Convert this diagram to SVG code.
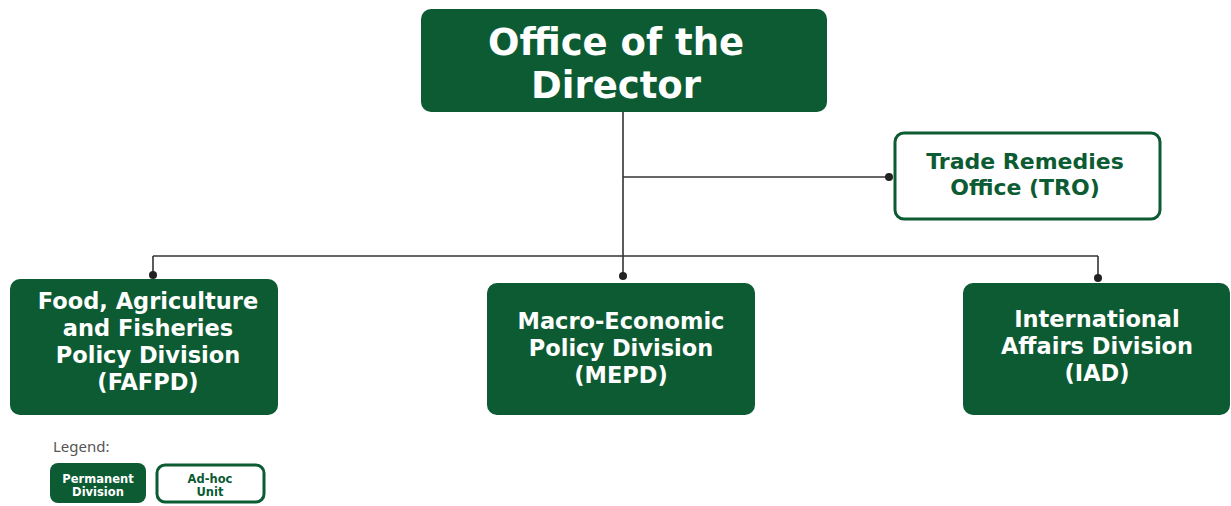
<svg xmlns="http://www.w3.org/2000/svg" width="1231" height="506" viewBox="0 0 1231 506">
<style>
.perm{fill:#0c5b33;}
.adhoc{fill:#ffffff;stroke:#0c5b33;stroke-width:3;}
.t{font-family:"DejaVu Sans","Liberation Sans",sans-serif;font-weight:bold;text-anchor:middle;}
.w{fill:#ffffff;}
.g{fill:#0c5b33;}
.conn{fill:none;stroke:#333333;stroke-width:1.6;}
.dot{fill:#222222;}
</style>
<rect width="1231" height="506" fill="#ffffff"/>
<g id="connectors">
<path class="conn" d="M623 112 V279"/>
<path class="conn" d="M623 177 H889"/>
<path class="conn" d="M153 256 H1098"/>
<path class="conn" d="M153 256 V275"/>
<path class="conn" d="M1098 256 V279"/>
<circle class="dot" cx="889" cy="177" r="4"/>
<circle class="dot" cx="153" cy="275" r="4"/>
<circle class="dot" cx="623" cy="276" r="4"/>
<circle class="dot" cx="1098" cy="278" r="4"/>
</g>
<g id="director">
<rect class="perm" x="421" y="9" width="406" height="103" rx="10"/>
<text class="t w" x="616" y="55" font-size="37">Office of the</text>
<text class="t w" x="616" y="98" font-size="37">Director</text>
</g>
<g id="tro">
<rect class="adhoc" x="895" y="133" width="265" height="86" rx="9"/>
<text class="t g" x="1025" y="169" font-size="22">Trade Remedies</text>
<text class="t g" x="1025" y="195" font-size="22">Office (TRO)</text>
</g>
<g id="fafpd">
<rect class="perm" x="10" y="279" width="268" height="136" rx="10"/>
<text class="t w" x="148" y="309" font-size="22.5">Food, Agriculture</text>
<text class="t w" x="148" y="336" font-size="22.5">and Fisheries</text>
<text class="t w" x="148" y="363" font-size="22.5">Policy Division</text>
<text class="t w" x="148" y="390" font-size="22.5">(FAFPD)</text>
</g>
<g id="mepd">
<rect class="perm" x="487" y="283" width="268" height="132" rx="10"/>
<text class="t w" x="621" y="329" font-size="22.5">Macro-Economic</text>
<text class="t w" x="621" y="356" font-size="22.5">Policy Division</text>
<text class="t w" x="621" y="383" font-size="22.5">(MEPD)</text>
</g>
<g id="iad">
<rect class="perm" x="963" y="283" width="267" height="132" rx="10"/>
<text class="t w" x="1097" y="327" font-size="22.5">International</text>
<text class="t w" x="1097" y="354" font-size="22.5">Affairs Division</text>
<text class="t w" x="1097" y="381" font-size="22.5">(IAD)</text>
</g>
<g id="legend">
<text x="53" y="452" font-family="'Noto Sans','DejaVu Sans',sans-serif" font-size="15" fill="#555555">Legend:</text>
<rect class="perm" x="50" y="463" width="96" height="40" rx="8"/>
<text class="t w" x="98" y="483" font-size="11.5">Permanent</text>
<text class="t w" x="98" y="496" font-size="11.5">Division</text>
<rect class="adhoc" x="157" y="465" width="107" height="37" rx="8"/>
<text class="t g" x="210" y="483" font-size="11.5">Ad-hoc</text>
<text class="t g" x="210" y="496" font-size="11.5">Unit</text>
</g>
</svg>
